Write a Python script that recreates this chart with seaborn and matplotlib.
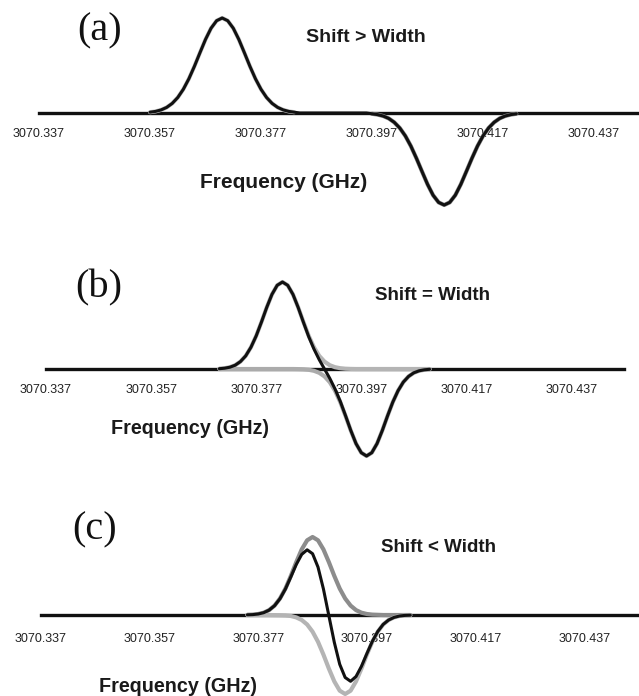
import numpy as np
import pandas as pd
import seaborn as sns
import matplotlib.pyplot as plt

step = 0.001
ticks = [3070.337, 3070.357, 3070.377, 3070.397, 3070.417, 3070.437]
tick_labels = ['3070.337', '3070.357', '3070.377', '3070.397', '3070.417', '3070.437']

# (a) Shift > Width
a_start = 3070.357
a_sum = [0.008, 0.016, 0.031, 0.056, 0.096, 0.155, 0.237, 0.342, 0.467, 0.603,
         0.736, 0.848, 0.923, 0.950, 0.923, 0.848, 0.736, 0.603, 0.467, 0.342,
         0.237, 0.155, 0.096, 0.056, 0.031, 0.016, 0.008,
         0, 0, 0, 0, 0, 0, 0, 0, 0, 0, 0, 0, 0,
         -0.008, -0.016, -0.030, -0.054, -0.093, -0.150, -0.229, -0.331, -0.453, -0.584,
         -0.713, -0.822, -0.894, -0.920, -0.894, -0.822, -0.713, -0.584, -0.453, -0.331,
         -0.229, -0.150, -0.093, -0.054, -0.030, -0.016, -0.008]
a_pos_start = 3070.357
a_pos = [0.008, 0.016, 0.031, 0.056, 0.096, 0.155, 0.237, 0.342, 0.467, 0.603,
         0.736, 0.848, 0.923, 0.950, 0.923, 0.848, 0.736, 0.603, 0.467, 0.342,
         0.237, 0.155, 0.096, 0.056, 0.031, 0.016, 0.008]
a_neg_start = 3070.397
a_neg = [-0.008, -0.016, -0.030, -0.054, -0.093, -0.150, -0.229, -0.331, -0.453, -0.584,
         -0.713, -0.822, -0.894, -0.920, -0.894, -0.822, -0.713, -0.584, -0.453, -0.331,
         -0.229, -0.150, -0.093, -0.054, -0.030, -0.016, -0.008]

# (b) Shift = Width
b_start = 3070.370
b_sum = [0.003, 0.008, 0.018, 0.038, 0.074, 0.131, 0.217, 0.331, 0.469, 0.615,
         0.746, 0.837, 0.870, 0.837, 0.746, 0.614, 0.466, 0.323, 0.199, 0.093,
         0.0, -0.093, -0.199, -0.323, -0.466, -0.614, -0.746, -0.837, -0.870, -0.837,
         -0.746, -0.615, -0.469, -0.331, -0.217, -0.131, -0.074, -0.038, -0.018, -0.008,
         -0.003]
b_pos = [0.003, 0.008, 0.018, 0.038, 0.074, 0.131, 0.217, 0.331, 0.469, 0.615,
         0.746, 0.837, 0.870, 0.837, 0.746, 0.615, 0.469, 0.331, 0.217, 0.131,
         0.074, 0.038, 0.018, 0.008, 0.003, 0.001, 0, 0, 0, 0,
         0, 0, 0, 0, 0, 0, 0, 0, 0, 0, 0]
b_neg = [0, 0, 0, 0, 0, 0, 0, 0, 0, 0,
         0, 0, 0, 0, 0, -0.001, -0.003, -0.008, -0.018, -0.038,
         -0.074, -0.131, -0.217, -0.331, -0.469, -0.615, -0.746, -0.837, -0.870, -0.837,
         -0.746, -0.615, -0.469, -0.331, -0.217, -0.131, -0.074, -0.038, -0.018, -0.008,
         -0.003]

# (c) Shift < Width
c_start = 3070.375
c_sum = [0.002, 0.004, 0.010, 0.023, 0.049, 0.093, 0.163, 0.260, 0.381, 0.505,
         0.606, 0.652, 0.613, 0.479, 0.260, -0.007, -0.273, -0.493, -0.625, -0.663,
         -0.615, -0.513, -0.386, -0.264, -0.165, -0.094, -0.050, -0.024, -0.010, -0.004,
         -0.002]
c_pos = [0.002, 0.004, 0.010, 0.023, 0.049, 0.094, 0.165, 0.264, 0.391, 0.529,
         0.656, 0.747, 0.780, 0.747, 0.656, 0.529, 0.391, 0.264, 0.165, 0.094,
         0.049, 0.023, 0.010, 0.004, 0.002, 0, 0, 0, 0, 0, 0]
c_neg = [0, 0, 0, 0, 0, -0.001, -0.002, -0.004, -0.010, -0.024,
         -0.050, -0.095, -0.167, -0.268, -0.396, -0.536, -0.664, -0.757, -0.790, -0.757,
         -0.664, -0.536, -0.396, -0.268, -0.167, -0.095, -0.050, -0.024, -0.010, -0.004,
         -0.002]


def trace(start, vals):
    f = start + step * np.arange(len(vals))
    return pd.DataFrame({'freq': f, 'val': vals})


sns.set_style('white')
plt.rcParams['font.family'] = ['Liberation Sans', 'DejaVu Sans']

W, H = 639, 696
fig = plt.figure(figsize=(W / 100, H / 100), dpi=100)


def px_axes(x0, x1, y0, y1):
    return fig.add_axes([x0 / W, 1 - y1 / H, (x1 - x0) / W, (y1 - y0) / H])


panels = [
    # axes px box, xlim, ylim, traces, gray colours, texts
    dict(box=(39, 639, 0, 230), xlim=(3070.337, 3070.4451), ylim=(-1.17, 1.13),
         s=(a_start, a_sum), p=(a_pos_start, a_pos), n=(a_neg_start, a_neg),
         cols=('#c4c4c4', '#8c8c8c'), pad=8,
         lab=('(a)', 100, 31), shift=('Shift > Width', 306, 38, 14),
         freq=('Frequency (GHz)', 284, 183, 15)),
    dict(box=(46, 624, 240, 470), xlim=(3070.337, 3070.447), ylim=(-1.01, 1.29),
         s=(b_start, b_sum), p=(b_start, b_pos), n=(b_start, b_neg),
         cols=('#b4b4b4', '#ababab'), pad=8,
         lab=('(b)', 99, 288), shift=('Shift = Width', 375, 295, 13.5),
         freq=('Frequency (GHz)', 190, 428, 14.2)),
    dict(box=(41, 639, 480, 696), xlim=(3070.337, 3070.4471), ylim=(-0.81, 1.35),
         s=(c_start, c_sum), p=(c_start, c_pos), n=(c_start, c_neg),
         cols=('#8c8c8c', '#b4b4b4'), pad=10,
         lab=('(c)', 95, 530), shift=('Shift < Width', 381, 547, 13.5),
         freq=('Frequency (GHz)', 178, 686, 14.2)),
]

for pn in panels:
    ax = px_axes(*pn['box'])
    ax.set_facecolor('none')
    sns.lineplot(data=trace(*pn['p']), x='freq', y='val', ax=ax, color=pn['cols'][0],
                 lw=3.0, sort=False, estimator=None, zorder=2)
    sns.lineplot(data=trace(*pn['n']), x='freq', y='val', ax=ax, color=pn['cols'][1],
                 lw=3.0, sort=False, estimator=None, zorder=2)
    sns.lineplot(data=trace(*pn['s']), x='freq', y='val', ax=ax, color='#111111',
                 lw=2.2, sort=False, estimator=None, zorder=3)
    ax.set_xlim(*pn['xlim'])
    ax.set_ylim(*pn['ylim'])
    for side in ['top', 'right', 'left']:
        ax.spines[side].set_visible(False)
    ax.spines['bottom'].set_position(('data', 0))
    ax.spines['bottom'].set_linewidth(2.4)
    ax.spines['bottom'].set_color('#111111')
    ax.spines['bottom'].set_zorder(1)
    ax.set_xticks(ticks)
    ax.set_xticklabels(tick_labels)
    ax.tick_params(axis='x', direction='inout', length=6, width=1, color='#222222',
                   pad=pn['pad'], labelsize=9, labelcolor='#222222')
    ax.set_yticks([])
    ax.set_xlabel('')
    ax.set_ylabel('')

    t, x, y = pn['lab']
    fig.text(x / W, 1 - y / H, t, family='Liberation Serif', fontsize=29,
             ha='center', va='center', color='#111111')
    t, x, y, fs = pn['shift']
    fig.text(x / W, 1 - y / H, t, fontsize=fs, fontweight='bold',
             ha='left', va='center', color='#1a1a1a')
    t, x, y, fs = pn['freq']
    fig.text(x / W, 1 - y / H, t, fontsize=fs, fontweight='bold',
             ha='center', va='center', color='#1a1a1a')

fig.savefig('out.png', dpi=100, facecolor='white')
